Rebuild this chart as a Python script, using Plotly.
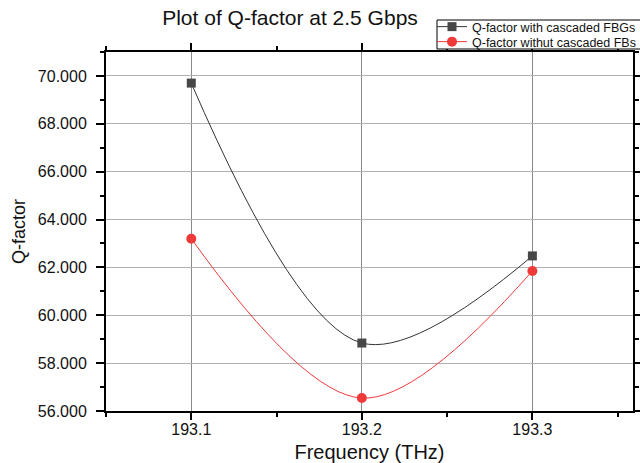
import plotly.graph_objects as go

freq = [193.1, 193.2, 193.3]
q_with = [69.70, 58.84, 62.48]
q_without = [63.20, 56.54, 61.85]
series_names = ["Q-factor with cascaded FBGs", "Q-factor withut cascaded FBs"]
y_ticks = [56, 58, 60, 62, 64, 66, 68, 70]
y_tick_text = ["56.000", "58.000", "60.000", "62.000", "64.000", "66.000", "68.000", "70.000"]
x_ticks = [193.1, 193.2, 193.3]

font = "Liberation Sans, Arial, sans-serif"
W, H = 640, 463

fig = go.Figure()
fig.add_trace(go.Scatter(
    x=freq, y=q_with, name=series_names[0], mode="lines+markers", legend="legend",
    line=dict(color="#333333", width=1, shape="spline", smoothing=1.0),
    marker=dict(symbol="square", size=9, color="#474747"),
))
fig.add_trace(go.Scatter(
    x=freq, y=q_without, name=series_names[1], mode="lines+markers", legend="legend2",
    line=dict(color="#f03a3a", width=1, shape="spline", smoothing=1.0),
    marker=dict(symbol="circle", size=10, color="#f03a3a"),
))

leg_common = dict(xref="container", yref="container", xanchor="left", yanchor="middle",
                  bgcolor="rgba(0,0,0,0)", borderwidth=0,
                  font=dict(size=12.5, color="#111111"), itemwidth=30)

# legend frame box (paper coords relative to plot area)
l, r, t, b = 106, 7, 52, 52
pw, ph = W - l - r, H - t - b
fig.add_shape(type="rect", xref="paper", yref="paper",
              x0=(437 - l) / pw, x1=(W + 10 - l) / pw,
              y0=(H - b - 49) / ph, y1=(H - b - 20) / ph,
              fillcolor="white", line=dict(color="black", width=1), layer="above")

fig.update_layout(
    width=W, height=H,
    margin=dict(l=l, r=r, t=t, b=b, autoexpand=False),
    paper_bgcolor="white", plot_bgcolor="white",
    font=dict(family=font, color="#111111"),
    title=dict(text="Plot of Q-factor at 2.5 Gbps", x=290/W, xanchor="center",
               y=1 - 18/H, yanchor="middle", yref="container",
               font=dict(size=21, color="#111111")),
    legend=dict(x=432/W, y=1 - 27/H, **leg_common),
    legend2=dict(x=432/W, y=1 - 42/H, **leg_common),
    showlegend=True,
)
fig.update_xaxes(
    range=[193.05, 193.359], tickvals=x_ticks, ticktext=[str(v) for v in x_ticks],
    automargin=False,
    showline=True, linecolor="black", linewidth=2, mirror="ticks",
    ticks="outside", ticklen=7, tickwidth=1.5, tickcolor="black",
    ticklabelstandoff=-4,
    showgrid=True, gridcolor="#8a8a8a", gridwidth=1, zeroline=False,
    minor=dict(dtick=0.1, tick0=193.05, ticks="outside", ticklen=4, tickcolor="black", showgrid=False),
    tickfont=dict(size=16, color="#111111"),
    title=dict(text="Frequency (THz)", font=dict(size=20, color="#111111"), standoff=9),
)
fig.update_yaxes(
    range=[56, 71], tickvals=y_ticks, ticktext=y_tick_text,
    automargin=False,
    showline=True, linecolor="black", linewidth=2, mirror="ticks",
    ticks="outside", ticklen=8, tickwidth=1.5, tickcolor="black",
    ticklabelstandoff=6,
    showgrid=True, gridcolor="#b0b0b0", gridwidth=1, zeroline=False,
    minor=dict(dtick=2, tick0=57, ticks="outside", ticklen=4, tickcolor="black", showgrid=False),
    tickfont=dict(size=16, color="#111111"),
    title=dict(text="Q-factor", font=dict(size=18, color="#111111"), standoff=8),
)

fig.write_html("out.html", config={"displayModeBar": False},
               post_script="document.body.style.margin='0';document.body.style.overflow='hidden';")
